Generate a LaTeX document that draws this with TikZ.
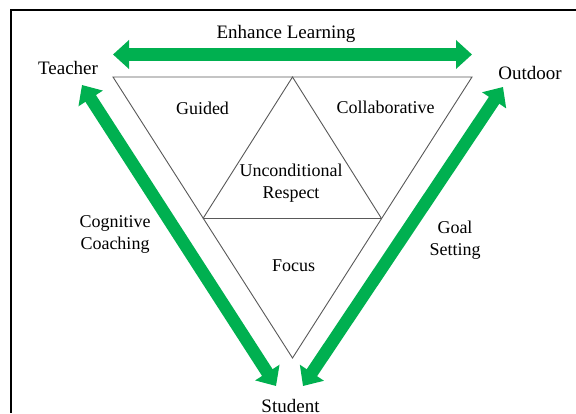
\documentclass[tikz,border=0pt]{standalone}
\usepackage{fontspec}
\setmainfont{Liberation Serif}
\usetikzlibrary{arrows.meta}
\definecolor{leafgreen}{RGB}{0,176,80}
\begin{document}
\begin{tikzpicture}[x=1pt,y=-1pt,
  facet/.style={draw=black!65,line width=0.9pt,line join=miter},
  bigarrow/.style={draw=leafgreen,line width=12.5pt,
    {Triangle[length=16pt,width=28pt]}-{Triangle[length=16pt,width=28pt]}},
  label/.style={font=\fontsize{18}{22}\selectfont,inner sep=0pt,align=center,anchor=base},
  outer/.style={font=\fontsize{19}{22}\selectfont,inner sep=0pt,anchor=base}]
\useasboundingbox (0,0) rectangle (576,413);
\fill[white] (0,0) rectangle (576,413);
% frame
\draw[line width=1.4pt] (576,10) -- (11,10) -- (11,413);

% triangle corners and mid points
\coordinate (tl) at (113,77);
\coordinate (tr) at (472,77);
\coordinate (bt) at (292.5,358);
\coordinate (top) at (292.5,77);
\coordinate (ml) at (203,218.5);
\coordinate (mr) at (381.5,218.5);

\draw[facet] (tl) -- (tr) -- (bt) -- cycle;
\draw[facet] (ml) -- (top) -- (mr);
\draw[facet,line width=1.3pt] (ml) -- (mr);

% arrow end points
\coordinate (elL) at (113,54.5);
\coordinate (elR) at (472,54.5);
\coordinate (ccT) at (82,85);
\coordinate (ccS) at (276,386);
\coordinate (gsO) at (503,87);
\coordinate (gsS) at (303,386);

\draw[bigarrow] (elL) -- (elR);
\draw[bigarrow] (ccT) -- (ccS);
\draw[bigarrow] (gsO) -- (gsS);

% labels (the base of a two-line label is its last line)
\node[outer] (teacher) at (68,74) {Teacher};
\node[outer] (outdoor) at (530,79) {Outdoor};
\node[outer] (student) at (290.5,412) {Student};
\node[outer] (enhance) at (286,38) {Enhance Learning};
\node[label] (guided) at (202.5,114) {Guided};
\node[label] (collab) at (385.5,113) {Collaborative};
\node[label] (respect) at (291,198) {Unconditional\\Respect};
\node[label] (focus) at (293.5,271) {Focus};
\node[label] (coach) at (115,249) {Cognitive\\Coaching};
\node[label] (goal) at (455,255) {Goal\\Setting};
\end{tikzpicture}
\end{document}
